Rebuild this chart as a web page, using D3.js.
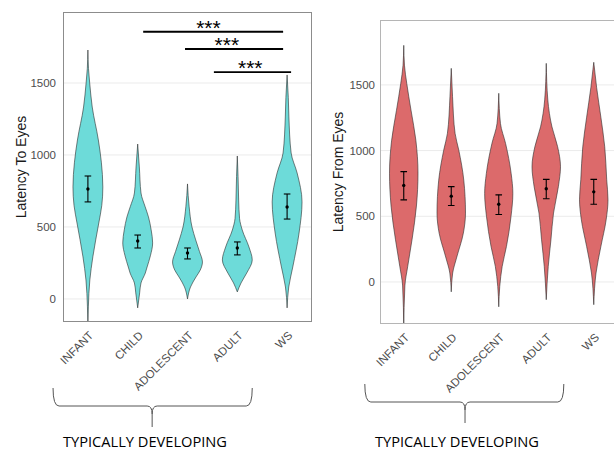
<!DOCTYPE html>
<html>
<head>
<meta charset="utf-8">
<script src="https://cdn.jsdelivr.net/npm/d3@7"></script>
<style>
  body { margin: 0; background: #fff; }
  svg { display: block; }
</style>
</head>
<body>
<svg id="chart" width="614" height="451"></svg>
<script>
const categories = ['INFANT', 'CHILD', 'ADOLESCENT', 'ADULT', 'WS'];
const yTicks = [0, 500, 1000, 1500];

// latency to eyes, violin outlines as [latency, relative density]
const toEyesInfant = [[-200, 0], [-55, 0.03], [132, 0.13], [292, 0.33], [528, 0.73], [650, 0.93], [778, 1.0], [950, 0.9], [1104, 0.7], [1333, 0.29], [1500, 0.12], [1600, 0.04], [1729, 0]];
const toEyesChild = [[-62, 0], [42, 0.13], [111, 0.22], [180, 0.51], [222, 0.63], [300, 0.85], [389, 1.0], [480, 0.9], [570, 0.72], [640, 0.5], [736, 0.22], [917, 0.11], [1076, 0]];
const toEyesAdolescent = [[0, 0], [83, 0.2], [153, 0.57], [200, 0.85], [257, 1.0], [330, 0.8], [410, 0.55], [500, 0.3], [640, 0.11], [799, 0]];
const toEyesAdult = [[49, 0], [111, 0.25], [180, 0.63], [271, 1.0], [361, 0.78], [479, 0.33], [560, 0.15], [687, 0.09], [850, 0.05], [993, 0]];
const toEyesWS = [[-62, 0], [83, 0.11], [222, 0.38], [458, 0.8], [674, 1.0], [875, 0.67], [1014, 0.27], [1264, 0.12], [1400, 0.08], [1556, 0]];

const toEyesMean = [764, 403, 319, 354, 639];
const toEyesLow = [674, 354, 278, 306, 555];
const toEyesHigh = [854, 444, 354, 396, 729];

// latency from eyes
const fromEyesInfant = [[-360, 0], [-30, 0.08], [120, 0.28], [321, 0.58], [578, 0.89], [828, 1.0], [1079, 0.85], [1307, 0.51], [1512, 0.21], [1650, 0.05], [1801, 0]];
const fromEyesChild = [[-75, 0], [68, 0.1], [190, 0.39], [372, 0.85], [524, 1.0], [775, 0.88], [1003, 0.53], [1130, 0.27], [1411, 0.09], [1626, 0]];
const fromEyesAdolescent = [[-189, 0], [-34, 0.07], [118, 0.24], [270, 0.54], [498, 0.86], [674, 0.99], [826, 0.87], [1054, 0.48], [1206, 0.12], [1436, 0]];
const fromEyesAdult = [[-135, 0], [118, 0.14], [321, 0.33], [524, 0.51], [725, 0.85], [877, 1.0], [1029, 0.8], [1181, 0.4], [1386, 0.11], [1664, 0]];
const fromEyesWS = [[-173, 0], [68, 0.16], [270, 0.5], [473, 0.87], [625, 1.0], [778, 0.91], [1029, 0.77], [1254, 0.5], [1482, 0.2], [1672, 0]];

const fromEyesMean = [735, 653, 592, 709, 686];
const fromEyesLow = [625, 582, 514, 633, 592];
const fromEyesHigh = [840, 726, 663, 781, 781];

// significance brackets (left panel), positions in category index
const sigFrom = [1.11, 1.95, 2.53];
const sigTo = [3.92, 3.92, 4.08];
const sigStarAt = [2.42, 2.79, 3.26];
const sigLevel = [1856, 1736, 1576];
const sigLabel = ['***', '***', '***'];

const groupLabel = 'TYPICALLY DEVELOPING';

const svg = d3.select('#chart');

function drawPanel(p) {
  const x = d3.scaleLinear().domain([-0.5, categories.length - 0.5]).range([p.left, p.right]);
  const y = d3.scaleLinear().domain(p.yDomain).range([p.bottom, p.top]);
  const step = x(1) - x(0);
  const w = d3.scaleLinear().domain([0, 1]).range([0, step * 0.3]);

  const g = svg.append('g');

  g.append('clipPath').attr('id', p.id + '-clip')
    .append('rect')
    .attr('x', p.left).attr('y', p.top)
    .attr('width', p.right - p.left).attr('height', p.bottom - p.top);

  // grid
  g.selectAll('.grid')
    .data(yTicks)
    .enter()
    .append('line')
    .attr('x1', p.left).attr('x2', p.right)
    .attr('y1', d => y(d)).attr('y2', d => y(d))
    .attr('stroke', '#ebebeb')
    .attr('stroke-width', 1);

  // y axis
  const yAxis = g.append('g')
    .attr('transform', 'translate(' + p.left + ',0)')
    .call(d3.axisLeft(y).tickValues(yTicks).tickFormat(d3.format('d')).tickSize(0).tickPadding(p.tickPad));
  yAxis.select('.domain').remove();
  yAxis.selectAll('text')
    .attr('fill', '#4d4d4d')
    .style('font-family', 'Liberation Sans, Arial, sans-serif')
    .style('font-size', '11.5px');

  // violins
  const area = d3.area()
    .y(d => y(d[0]))
    .curve(d3.curveMonotoneY);

  const body = g.append('g').attr('clip-path', 'url(#' + p.id + '-clip)');

  body.selectAll('.violin')
    .data(p.profiles)
    .enter()
    .append('path')
    .attr('d', (d, i) => area.x0(e => x(i) - w(e[1])).x1(e => x(i) + w(e[1]))(d))
    .attr('fill', p.fill)
    .attr('stroke', '#2b2b2b')
    .attr('stroke-width', 0.6);

  // error bars
  const capHalf = 3.3;
  const eb = body.selectAll('.eb')
    .data(p.mean)
    .enter()
    .append('g');

  eb.append('line')
    .attr('x1', (d, i) => x(i)).attr('x2', (d, i) => x(i))
    .attr('y1', (d, i) => y(p.low[i])).attr('y2', (d, i) => y(p.high[i]))
    .attr('stroke', '#000').attr('stroke-width', 1.1);
  eb.append('line')
    .attr('x1', (d, i) => x(i) - capHalf).attr('x2', (d, i) => x(i) + capHalf)
    .attr('y1', (d, i) => y(p.low[i])).attr('y2', (d, i) => y(p.low[i]))
    .attr('stroke', '#000').attr('stroke-width', 1.1);
  eb.append('line')
    .attr('x1', (d, i) => x(i) - capHalf).attr('x2', (d, i) => x(i) + capHalf)
    .attr('y1', (d, i) => y(p.high[i])).attr('y2', (d, i) => y(p.high[i]))
    .attr('stroke', '#000').attr('stroke-width', 1.1);
  eb.append('circle')
    .attr('cx', (d, i) => x(i))
    .attr('cy', d => y(d))
    .attr('r', 1.7)
    .attr('fill', '#000');

  // frame
  g.append('rect')
    .attr('x', p.left + 0.5).attr('y', p.top + 0.5)
    .attr('width', p.right - p.left - 1).attr('height', p.bottom - p.top - 1)
    .attr('fill', 'none')
    .attr('stroke', p.frame)
    .attr('stroke-width', 1);

  // x labels
  g.selectAll('.xlab')
    .data(categories)
    .enter()
    .append('text')
    .attr('transform', (d, i) => 'translate(' + x(i) + ',' + (p.bottom + 8) + ') rotate(-45)')
    .attr('text-anchor', 'end')
    .attr('dy', '0.75em')
    .attr('fill', '#4d4d4d')
    .style('font-family', 'Liberation Sans, Arial, sans-serif')
    .style('font-size', '11.5px')
    .text(d => d);

  // y title
  g.append('text')
    .attr('transform', 'translate(' + p.titleX + ',' + ((p.top + p.bottom) / 2) + ') rotate(-90)')
    .attr('text-anchor', 'middle')
    .attr('dy', '0.35em')
    .attr('fill', '#1a1a1a')
    .style('font-family', 'Liberation Sans, Arial, sans-serif')
    .style('font-size', '14px')
    .text(p.title);

  // brace under the typically developing groups
  const bx0 = x(p.brace[0]), bx1 = x(p.brace[1]), bc = x(p.brace[2]);
  const bTop = p.braceTop, bMid = bTop + 18, bTip = bTop + 39;
  g.append('path')
    .attr('d', 'M' + bx0 + ',' + bTop +
      ' Q' + bx0 + ',' + bMid + ' ' + (bx0 + 6) + ',' + bMid +
      ' L' + (bc - 5) + ',' + bMid +
      ' Q' + bc + ',' + bMid + ' ' + bc + ',' + (bMid + 8) +
      ' L' + bc + ',' + bTip +
      ' M' + bc + ',' + (bMid + 8) +
      ' Q' + bc + ',' + bMid + ' ' + (bc + 5) + ',' + bMid +
      ' L' + (bx1 - 6) + ',' + bMid +
      ' Q' + bx1 + ',' + bMid + ' ' + bx1 + ',' + bTop)
    .attr('fill', 'none')
    .attr('stroke', '#555')
    .attr('stroke-width', 1);

  g.append('text')
    .attr('x', p.groupText[0])
    .attr('y', 447)
    .attr('textLength', p.groupText[1])
    .attr('lengthAdjust', 'spacingAndGlyphs')
    .attr('fill', '#000')
    .style('font-family', 'Open Sans, sans-serif')
    .style('font-size', '15px')
    .text(groupLabel);

  return { x: x, y: y, g: g };
}

const left = drawPanel({
  id: 'to', left: 63, right: 312, top: 12, bottom: 322,
  yDomain: [-160, 1993], tickPad: 7, titleX: 21,
  title: 'Latency To Eyes', fill: '#6ddbd9', frame: '#8c8c8c',
  profiles: [toEyesInfant, toEyesChild, toEyesAdolescent, toEyesAdult, toEyesWS],
  mean: toEyesMean, low: toEyesLow, high: toEyesHigh,
  brace: [-0.70, 3.30, 1.29], braceTop: 388, groupText: [63, 164]
});

drawPanel({
  id: 'from', left: 380, right: 617.5, top: 20, bottom: 324,
  yDomain: [-320, 1994], tickPad: 5, titleX: 338,
  title: 'Latency From Eyes', fill: '#dc6a6b', frame: '#b5b5b5',
  profiles: [fromEyesInfant, fromEyesChild, fromEyesAdolescent, fromEyesAdult, fromEyesWS],
  mean: fromEyesMean, low: fromEyesLow, high: fromEyesHigh,
  brace: [-0.82, 3.37, 1.29], braceTop: 384, groupText: [375, 164]
});

// significance brackets
const sig = left.g.append('g');
sig.selectAll('line')
  .data(sigLevel)
  .enter()
  .append('line')
  .attr('x1', (d, i) => left.x(sigFrom[i]))
  .attr('x2', (d, i) => left.x(sigTo[i]))
  .attr('y1', d => left.y(d)).attr('y2', d => left.y(d))
  .attr('stroke', '#000')
  .attr('stroke-width', 1.8);
sig.selectAll('text')
  .data(sigLevel)
  .enter()
  .append('text')
  .attr('x', (d, i) => left.x(sigStarAt[i]))
  .attr('y', d => left.y(d) + 3)
  .attr('text-anchor', 'middle')
  .attr('fill', '#000')
  .style('font-family', 'Liberation Sans, Arial, sans-serif')
  .style('font-size', '21px')
  .text((d, i) => sigLabel[i]);
</script>
</body>
</html>
